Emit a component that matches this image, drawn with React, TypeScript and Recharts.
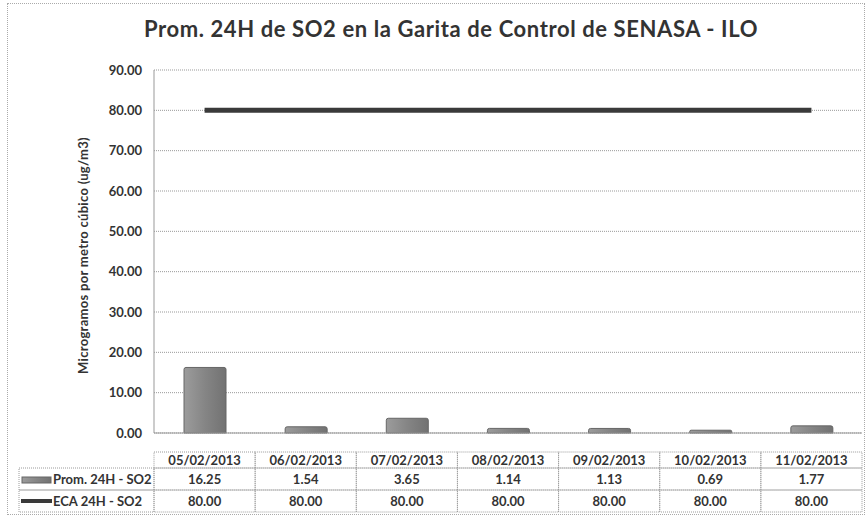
import React from 'react';
import {
  ComposedChart,
  Bar,
  Line,
  XAxis,
  YAxis,
  CartesianGrid,
} from 'recharts';

const fechas = [
  '05/02/2013',
  '06/02/2013',
  '07/02/2013',
  '08/02/2013',
  '09/02/2013',
  '10/02/2013',
  '11/02/2013',
];
const promSO2 = [16.25, 1.54, 3.65, 1.14, 1.13, 0.69, 1.77];
const ecaSO2 = [80, 80, 80, 80, 80, 80, 80];
const yTicks = [0, 10, 20, 30, 40, 50, 60, 70, 80, 90];
const seriesNames = ['Prom. 24H - SO2', 'ECA 24H - SO2'];

const data = fechas.map((f, i) => ({ fecha: f, prom: promSO2[i], eca: ecaSO2[i] }));

const W = 868;
const H = 518;
const M = { top: 70, right: 6, left: 0, bottom: 6 };
const Y_W = 154;
const BAND = (W - M.right - Y_W) / fechas.length;

const FONT = 'Lato, "Open Sans", sans-serif';
const TXT = '#333';
const BORDER = '#9a9a9a';

function TableTick(props: any) {
  const { x, y, index } = props;
  const left = x - BAND / 2;
  const hTop = y + 19;
  const r2 = hTop + 16;
  const r3 = r2 + 22;
  const cell = (ty: number, h: number, label: string) => (
    <g>
      <rect x={left} y={ty} width={BAND} height={h} fill="none" stroke={BORDER} strokeDasharray="1 1" />
      <text
        x={x}
        y={ty + h / 2 + 4.5}
        textAnchor="middle"
        fontSize={13}
        fontWeight={700}
        fontFamily={FONT}
        fill={TXT}
      >
        {label}
      </text>
    </g>
  );
  return (
    <g>
      {cell(hTop, 16, fechas[index])}
      {cell(r2, 22, promSO2[index].toFixed(2))}
      {cell(r3, 22, ecaSO2[index].toFixed(2))}
      {index === 0 && (
        <g>
          <rect x={19} y={r2} width={left - 19} height={22} fill="none" stroke={BORDER} strokeDasharray="1 1" />
          <rect x={19} y={r3} width={left - 19} height={22} fill="none" stroke={BORDER} strokeDasharray="1 1" />
          <rect x={22} y={r2 + 9} width={29} height={6} fill="url(#barFill)" stroke="#666" strokeWidth={1} />
          <line x1={21} x2={52} y1={r3 + 11} y2={r3 + 11} stroke="#3a3a3a" strokeWidth={4} />
          <text x={53} y={r2 + 15.5} fontSize={13} fontWeight={700} fontFamily={FONT} fill={TXT}>
            {seriesNames[0]}
          </text>
          <text x={53} y={r3 + 15.5} fontSize={13} fontWeight={700} fontFamily={FONT} fill={TXT}>
            {seriesNames[1]}
          </text>
        </g>
      )}
    </g>
  );
}

export default function App() {
  return (
    <div style={{ position: 'absolute', left: 0, top: 0, width: W, height: H, background: '#fff' }}>
      <style>{'body{margin:0}'}</style>
      <div
        style={{
          position: 'absolute',
          left: 7,
          top: 3,
          width: W - 10,
          height: H - 6,
          border: '1px dotted #aaa',
          boxSizing: 'border-box',
        }}
      />
      <div
        style={{
          position: 'absolute',
          left: 0,
          width: 902,
          top: 16,
          textAlign: 'center',
          fontFamily: FONT,
          fontWeight: 700,
          fontSize: 22,
          color: TXT,
          lineHeight: '26px',
          letterSpacing: '0.6px',
        }}
      >
        Prom. 24H de SO2 en la Garita de Control de SENASA - ILO
      </div>
      <ComposedChart width={W} height={H} data={data} margin={M} style={{ position: 'absolute', left: 0, top: 0 }}>
        <defs>
          <linearGradient id="barFill" x1="0" y1="0" x2="1" y2="0">
            <stop offset="0%" stopColor="#9c9c9c" />
            <stop offset="50%" stopColor="#858585" />
            <stop offset="100%" stopColor="#727272" />
          </linearGradient>
        </defs>
        <CartesianGrid vertical={false} stroke="#999" strokeDasharray="1 1" />
        <XAxis
          dataKey="fecha"
          height={H - M.top - M.bottom - 363}
          axisLine={{ stroke: '#999' }}
          tickLine={false}
          tickSize={0}
          tickMargin={0}
          interval={0}
          tick={<TableTick />}
        />
        <YAxis
          width={Y_W}
          domain={[0, 90]}
          ticks={yTicks}
          tickFormatter={(v: number) => v.toFixed(2)}
          axisLine={{ stroke: '#999' }}
          tickLine={false}
          tickSize={0}
          tickMargin={12}
          tick={{ fill: TXT, fontSize: 13, fontWeight: 700, fontFamily: FONT }}
          label={{
            value: 'Microgramos por metro cúbico (ug/m3)',
            angle: -90,
            position: 'center',
            dx: 6,
            dy: 4,
            style: { fill: TXT, fontSize: 13, fontWeight: 700, fontFamily: FONT, letterSpacing: '0.3px' },
          }}
        />
        <Bar
          dataKey="prom"
          barSize={42}
          fill="url(#barFill)"
          stroke="#666"
          strokeWidth={1}
          radius={[2, 2, 0, 0]}
          isAnimationActive={false}
        />
        <Line
          dataKey="eca"
          stroke="#3a3a3a"
          strokeWidth={5}
          dot={false}
          activeDot={false}
          type="linear"
          isAnimationActive={false}
        />
      </ComposedChart>
    </div>
  );
}
